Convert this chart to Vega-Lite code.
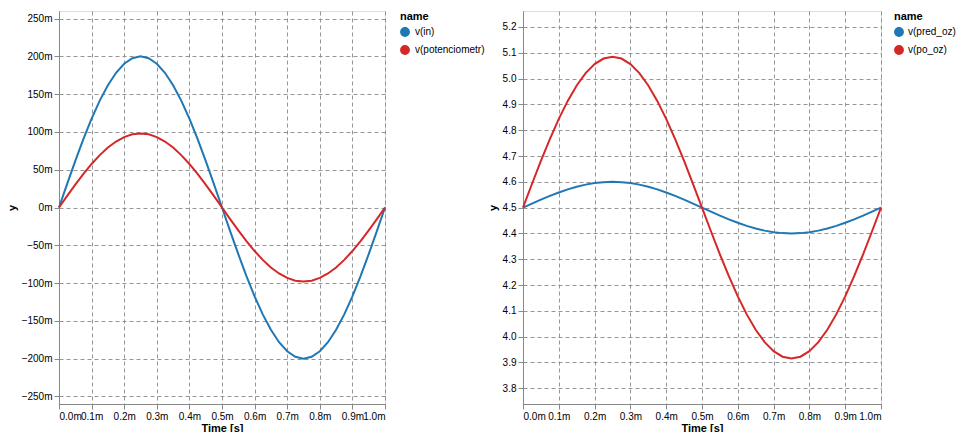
{
  "$schema": "https://vega.github.io/schema/vega-lite/v6.json",
  "padding": {"left": 5, "top": 10, "right": 0, "bottom": 0},
  "spacing": 0,
  "config": {
    "font": "Liberation Sans",
    "axis": {"gridDash": [4, 3], "gridColor": "#8a8a8a", "gridOpacity": 0.9, "labelOverlap": false, "labelFontSize": 10, "titleFontSize": 11, "domainColor": "#888", "tickColor": "#888"},
    "axisX": {"titleY": 27, "titleBaseline": "alphabetic"},
    "legend": {"titleFontSize": 11, "labelFontSize": 10, "symbolType": "circle", "symbolSize": 70, "offset": 11, "labelOffset": 5},
    "line": {"strokeWidth": 2}
  },
  "datasets": {
    "left": [
      {"t": 0, "name": "v(in)", "y": 0},
      {"t": 0.000025, "name": "v(in)", "y": 0.0313},
      {"t": 0.00005, "name": "v(in)", "y": 0.0618},
      {"t": 0.000075, "name": "v(in)", "y": 0.0908},
      {"t": 0.0001, "name": "v(in)", "y": 0.1176},
      {"t": 0.000125, "name": "v(in)", "y": 0.1414},
      {"t": 0.00015, "name": "v(in)", "y": 0.1618},
      {"t": 0.000175, "name": "v(in)", "y": 0.1782},
      {"t": 0.0002, "name": "v(in)", "y": 0.1902},
      {"t": 0.000225, "name": "v(in)", "y": 0.1975},
      {"t": 0.00025, "name": "v(in)", "y": 0.2},
      {"t": 0.000275, "name": "v(in)", "y": 0.1975},
      {"t": 0.0003, "name": "v(in)", "y": 0.1902},
      {"t": 0.000325, "name": "v(in)", "y": 0.1782},
      {"t": 0.00035, "name": "v(in)", "y": 0.1618},
      {"t": 0.000375, "name": "v(in)", "y": 0.1414},
      {"t": 0.0004, "name": "v(in)", "y": 0.1176},
      {"t": 0.000425, "name": "v(in)", "y": 0.0908},
      {"t": 0.00045, "name": "v(in)", "y": 0.0618},
      {"t": 0.000475, "name": "v(in)", "y": 0.0313},
      {"t": 0.0005, "name": "v(in)", "y": 0},
      {"t": 0.000525, "name": "v(in)", "y": -0.0313},
      {"t": 0.00055, "name": "v(in)", "y": -0.0618},
      {"t": 0.000575, "name": "v(in)", "y": -0.0908},
      {"t": 0.0006, "name": "v(in)", "y": -0.1176},
      {"t": 0.000625, "name": "v(in)", "y": -0.1414},
      {"t": 0.00065, "name": "v(in)", "y": -0.1618},
      {"t": 0.000675, "name": "v(in)", "y": -0.1782},
      {"t": 0.0007, "name": "v(in)", "y": -0.1902},
      {"t": 0.000725, "name": "v(in)", "y": -0.1975},
      {"t": 0.00075, "name": "v(in)", "y": -0.2},
      {"t": 0.000775, "name": "v(in)", "y": -0.1975},
      {"t": 0.0008, "name": "v(in)", "y": -0.1902},
      {"t": 0.000825, "name": "v(in)", "y": -0.1782},
      {"t": 0.00085, "name": "v(in)", "y": -0.1618},
      {"t": 0.000875, "name": "v(in)", "y": -0.1414},
      {"t": 0.0009, "name": "v(in)", "y": -0.1176},
      {"t": 0.000925, "name": "v(in)", "y": -0.0908},
      {"t": 0.00095, "name": "v(in)", "y": -0.0618},
      {"t": 0.000975, "name": "v(in)", "y": -0.0313},
      {"t": 0.001, "name": "v(in)", "y": 0},
      {"t": 0, "name": "v(potenciometr)", "y": 0},
      {"t": 0.000025, "name": "v(potenciometr)", "y": 0.0153},
      {"t": 0.00005, "name": "v(potenciometr)", "y": 0.0303},
      {"t": 0.000075, "name": "v(potenciometr)", "y": 0.0445},
      {"t": 0.0001, "name": "v(potenciometr)", "y": 0.0576},
      {"t": 0.000125, "name": "v(potenciometr)", "y": 0.0693},
      {"t": 0.00015, "name": "v(potenciometr)", "y": 0.0793},
      {"t": 0.000175, "name": "v(potenciometr)", "y": 0.0873},
      {"t": 0.0002, "name": "v(potenciometr)", "y": 0.0932},
      {"t": 0.000225, "name": "v(potenciometr)", "y": 0.0968},
      {"t": 0.00025, "name": "v(potenciometr)", "y": 0.098},
      {"t": 0.000275, "name": "v(potenciometr)", "y": 0.0968},
      {"t": 0.0003, "name": "v(potenciometr)", "y": 0.0932},
      {"t": 0.000325, "name": "v(potenciometr)", "y": 0.0873},
      {"t": 0.00035, "name": "v(potenciometr)", "y": 0.0793},
      {"t": 0.000375, "name": "v(potenciometr)", "y": 0.0693},
      {"t": 0.0004, "name": "v(potenciometr)", "y": 0.0576},
      {"t": 0.000425, "name": "v(potenciometr)", "y": 0.0445},
      {"t": 0.00045, "name": "v(potenciometr)", "y": 0.0303},
      {"t": 0.000475, "name": "v(potenciometr)", "y": 0.0153},
      {"t": 0.0005, "name": "v(potenciometr)", "y": 0},
      {"t": 0.000525, "name": "v(potenciometr)", "y": -0.0153},
      {"t": 0.00055, "name": "v(potenciometr)", "y": -0.0303},
      {"t": 0.000575, "name": "v(potenciometr)", "y": -0.0445},
      {"t": 0.0006, "name": "v(potenciometr)", "y": -0.0576},
      {"t": 0.000625, "name": "v(potenciometr)", "y": -0.0693},
      {"t": 0.00065, "name": "v(potenciometr)", "y": -0.0793},
      {"t": 0.000675, "name": "v(potenciometr)", "y": -0.0873},
      {"t": 0.0007, "name": "v(potenciometr)", "y": -0.0932},
      {"t": 0.000725, "name": "v(potenciometr)", "y": -0.0968},
      {"t": 0.00075, "name": "v(potenciometr)", "y": -0.098},
      {"t": 0.000775, "name": "v(potenciometr)", "y": -0.0968},
      {"t": 0.0008, "name": "v(potenciometr)", "y": -0.0932},
      {"t": 0.000825, "name": "v(potenciometr)", "y": -0.0873},
      {"t": 0.00085, "name": "v(potenciometr)", "y": -0.0793},
      {"t": 0.000875, "name": "v(potenciometr)", "y": -0.0693},
      {"t": 0.0009, "name": "v(potenciometr)", "y": -0.0576},
      {"t": 0.000925, "name": "v(potenciometr)", "y": -0.0445},
      {"t": 0.00095, "name": "v(potenciometr)", "y": -0.0303},
      {"t": 0.000975, "name": "v(potenciometr)", "y": -0.0153},
      {"t": 0.001, "name": "v(potenciometr)", "y": 0}
    ],
    "right": [
      {"t": 0, "name": "v(pred_oz)", "y": 4.5},
      {"t": 0.000025, "name": "v(pred_oz)", "y": 4.5156},
      {"t": 0.00005, "name": "v(pred_oz)", "y": 4.5309},
      {"t": 0.000075, "name": "v(pred_oz)", "y": 4.5454},
      {"t": 0.0001, "name": "v(pred_oz)", "y": 4.5588},
      {"t": 0.000125, "name": "v(pred_oz)", "y": 4.5707},
      {"t": 0.00015, "name": "v(pred_oz)", "y": 4.5809},
      {"t": 0.000175, "name": "v(pred_oz)", "y": 4.5891},
      {"t": 0.0002, "name": "v(pred_oz)", "y": 4.5951},
      {"t": 0.000225, "name": "v(pred_oz)", "y": 4.5988},
      {"t": 0.00025, "name": "v(pred_oz)", "y": 4.6},
      {"t": 0.000275, "name": "v(pred_oz)", "y": 4.5988},
      {"t": 0.0003, "name": "v(pred_oz)", "y": 4.5951},
      {"t": 0.000325, "name": "v(pred_oz)", "y": 4.5891},
      {"t": 0.00035, "name": "v(pred_oz)", "y": 4.5809},
      {"t": 0.000375, "name": "v(pred_oz)", "y": 4.5707},
      {"t": 0.0004, "name": "v(pred_oz)", "y": 4.5588},
      {"t": 0.000425, "name": "v(pred_oz)", "y": 4.5454},
      {"t": 0.00045, "name": "v(pred_oz)", "y": 4.5309},
      {"t": 0.000475, "name": "v(pred_oz)", "y": 4.5156},
      {"t": 0.0005, "name": "v(pred_oz)", "y": 4.5},
      {"t": 0.000525, "name": "v(pred_oz)", "y": 4.4844},
      {"t": 0.00055, "name": "v(pred_oz)", "y": 4.4691},
      {"t": 0.000575, "name": "v(pred_oz)", "y": 4.4546},
      {"t": 0.0006, "name": "v(pred_oz)", "y": 4.4412},
      {"t": 0.000625, "name": "v(pred_oz)", "y": 4.4293},
      {"t": 0.00065, "name": "v(pred_oz)", "y": 4.4191},
      {"t": 0.000675, "name": "v(pred_oz)", "y": 4.4109},
      {"t": 0.0007, "name": "v(pred_oz)", "y": 4.4049},
      {"t": 0.000725, "name": "v(pred_oz)", "y": 4.4012},
      {"t": 0.00075, "name": "v(pred_oz)", "y": 4.4},
      {"t": 0.000775, "name": "v(pred_oz)", "y": 4.4012},
      {"t": 0.0008, "name": "v(pred_oz)", "y": 4.4049},
      {"t": 0.000825, "name": "v(pred_oz)", "y": 4.4109},
      {"t": 0.00085, "name": "v(pred_oz)", "y": 4.4191},
      {"t": 0.000875, "name": "v(pred_oz)", "y": 4.4293},
      {"t": 0.0009, "name": "v(pred_oz)", "y": 4.4412},
      {"t": 0.000925, "name": "v(pred_oz)", "y": 4.4546},
      {"t": 0.00095, "name": "v(pred_oz)", "y": 4.4691},
      {"t": 0.000975, "name": "v(pred_oz)", "y": 4.4844},
      {"t": 0.001, "name": "v(pred_oz)", "y": 4.5},
      {"t": 0, "name": "v(po_oz)", "y": 4.5},
      {"t": 0.000025, "name": "v(po_oz)", "y": 4.5915},
      {"t": 0.00005, "name": "v(po_oz)", "y": 4.6808},
      {"t": 0.000075, "name": "v(po_oz)", "y": 4.7656},
      {"t": 0.0001, "name": "v(po_oz)", "y": 4.8439},
      {"t": 0.000125, "name": "v(po_oz)", "y": 4.9137},
      {"t": 0.00015, "name": "v(po_oz)", "y": 4.9733},
      {"t": 0.000175, "name": "v(po_oz)", "y": 5.0212},
      {"t": 0.0002, "name": "v(po_oz)", "y": 5.0564},
      {"t": 0.000225, "name": "v(po_oz)", "y": 5.0778},
      {"t": 0.00025, "name": "v(po_oz)", "y": 5.085},
      {"t": 0.000275, "name": "v(po_oz)", "y": 5.0778},
      {"t": 0.0003, "name": "v(po_oz)", "y": 5.0564},
      {"t": 0.000325, "name": "v(po_oz)", "y": 5.0212},
      {"t": 0.00035, "name": "v(po_oz)", "y": 4.9733},
      {"t": 0.000375, "name": "v(po_oz)", "y": 4.9137},
      {"t": 0.0004, "name": "v(po_oz)", "y": 4.8439},
      {"t": 0.000425, "name": "v(po_oz)", "y": 4.7656},
      {"t": 0.00045, "name": "v(po_oz)", "y": 4.6808},
      {"t": 0.000475, "name": "v(po_oz)", "y": 4.5915},
      {"t": 0.0005, "name": "v(po_oz)", "y": 4.5},
      {"t": 0.000525, "name": "v(po_oz)", "y": 4.4085},
      {"t": 0.00055, "name": "v(po_oz)", "y": 4.3192},
      {"t": 0.000575, "name": "v(po_oz)", "y": 4.2344},
      {"t": 0.0006, "name": "v(po_oz)", "y": 4.1561},
      {"t": 0.000625, "name": "v(po_oz)", "y": 4.0863},
      {"t": 0.00065, "name": "v(po_oz)", "y": 4.0267},
      {"t": 0.000675, "name": "v(po_oz)", "y": 3.9788},
      {"t": 0.0007, "name": "v(po_oz)", "y": 3.9436},
      {"t": 0.000725, "name": "v(po_oz)", "y": 3.9222},
      {"t": 0.00075, "name": "v(po_oz)", "y": 3.915},
      {"t": 0.000775, "name": "v(po_oz)", "y": 3.9222},
      {"t": 0.0008, "name": "v(po_oz)", "y": 3.9436},
      {"t": 0.000825, "name": "v(po_oz)", "y": 3.9788},
      {"t": 0.00085, "name": "v(po_oz)", "y": 4.0267},
      {"t": 0.000875, "name": "v(po_oz)", "y": 4.0863},
      {"t": 0.0009, "name": "v(po_oz)", "y": 4.1561},
      {"t": 0.000925, "name": "v(po_oz)", "y": 4.2344},
      {"t": 0.00095, "name": "v(po_oz)", "y": 4.3192},
      {"t": 0.000975, "name": "v(po_oz)", "y": 4.4085},
      {"t": 0.001, "name": "v(po_oz)", "y": 4.5}
    ]
  },
  "resolve": {"legend": {"color": "independent"}, "scale": {"color": "independent"}},
  "hconcat": [
    {
      "width": 326,
      "height": 393,
      "data": {"name": "left"},
      "encoding": {
        "x": {"field": "t", "type": "quantitative", "title": "Time [s]",
          "scale": {"domain": [0, 0.001], "nice": false},
          "axis": {"values": [0, 0.0001, 0.0002, 0.0003, 0.0004, 0.0005, 0.0006, 0.0007, 0.0008, 0.0009, 0.001],
            "labelExpr": "format(datum.value*1000, '.1f') + 'm'"}},
        "y": {"field": "y", "type": "quantitative", "title": "y",
          "scale": {"domain": [-0.26, 0.26], "nice": false, "zero": false},
          "axis": {"values": [-0.25, -0.2, -0.15, -0.1, -0.05, 0, 0.05, 0.1, 0.15, 0.2, 0.25],
            "labelExpr": "format(round(datum.value*1000), 'd') + 'm'"}},
        "color": {"field": "name", "type": "nominal",
          "scale": {"domain": ["v(in)", "v(potenciometr)"], "range": ["#1f77b4", "#d62728"]}}
      },
      "layer": [
        {"mark": {"type": "point", "filled": true, "size": 0, "opacity": 1}},
        {"mark": {"type": "line", "strokeWidth": 2}}
      ]
    },
    {
      "width": 358,
      "height": 393,
      "data": {"name": "right"},
      "encoding": {
        "x": {"field": "t", "type": "quantitative", "title": "Time [s]",
          "scale": {"domain": [0, 0.001], "nice": false},
          "axis": {"values": [0, 0.0001, 0.0002, 0.0003, 0.0004, 0.0005, 0.0006, 0.0007, 0.0008, 0.0009, 0.001],
            "labelExpr": "format(datum.value*1000, '.1f') + 'm'"}},
        "y": {"field": "y", "type": "quantitative", "title": "y",
          "scale": {"domain": [3.739, 5.262], "nice": false, "zero": false},
          "axis": {"values": [3.8, 3.9, 4.0, 4.1, 4.2, 4.3, 4.4, 4.5, 4.6, 4.7, 4.8, 4.9, 5.0, 5.1, 5.2],
            "format": ".1f"}},
        "color": {"field": "name", "type": "nominal",
          "scale": {"domain": ["v(pred_oz)", "v(po_oz)"], "range": ["#1f77b4", "#d62728"]},
          "legend": {"offset": 9, "labelOffset": 4}}
      },
      "layer": [
        {"mark": {"type": "point", "filled": true, "size": 0, "opacity": 1}},
        {"mark": {"type": "line", "strokeWidth": 2}}
      ]
    }
  ]
}
